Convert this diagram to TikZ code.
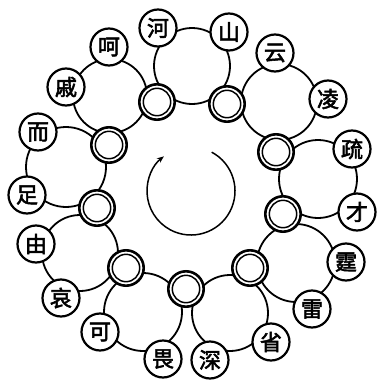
\documentclass[tikz,border=0pt]{standalone}
\usepackage{fontspec}
\newfontfamily\cjk{Noto Sans CJK SC}[AutoFakeBold=2.5]
\usetikzlibrary{arrows.meta}
\begin{document}
\begin{tikzpicture}[x=1pt,y=-1pt,
  ring/.style={circle,draw,line width=1.8pt,minimum size=#1,inner sep=0pt},
  hubout/.style={circle,draw,fill=white,line width=2.6pt,minimum size=35.4pt,inner sep=0pt},
  hubin/.style={circle,draw,line width=1.5pt,minimum size=27.4pt,inner sep=0pt},
  ch/.style={circle,draw,fill=white,line width=2.2pt,minimum size=37pt,inner sep=0pt,font=\cjk\bfseries\fontsize{22}{22}\selectfont}]
\useasboundingbox (0,0) rectangle (377,383);
% loops
\node[ring=76pt] (L1) at (192,66) {};
\node[ring=76pt] (L2) at (279,102) {};
\node[ring=78pt] (L3) at (318,179) {};
\node[ring=78pt] (L4) at (296,263) {};
\node[ring=76pt] (L5) at (230,313) {};
\node[ring=78pt] (L6) at (143,312) {};
\node[ring=76pt] (L7) at (80,253) {};
\node[ring=80pt] (L8) at (66,167) {};
\node[ring=74pt] (L9) at (110,96) {};
% centre arrow
\coordinate (O) at (191,191);
\draw[line width=1.5pt,-{Stealth[length=7pt,width=5.5pt]}] (O) ++(-62:44) arc[start angle=-62,end angle=232,radius=44];
% hubs
\foreach \n/\p in {A/{(157,102)},C/{(227,104)},D/{(276,152)},E/{(283,214)},F/{(250,268)},G/{(186,289)},H/{(126,268)},I/{(97,208)},B/{(109,145)}}{
  \node[hubout] (h\n) at \p {};
  \node[hubin] (h\n i) at (h\n) {};
}
% characters
\node[ch] (c1) at (158,28) {河};
\node[ch] (c2) at (229,32) {山};
\node[ch] (c3) at (275,53) {云};
\node[ch] (c4) at (328,99) {凌};
\node[ch] (c5) at (352,149) {疏};
\node[ch] (c6) at (357,212) {才};
\node[ch] (c7) at (346,262) {霆};
\node[ch] (c8) at (312,309) {雷};
\node[ch] (c9) at (271,342) {省};
\node[ch] (c10) at (210,360) {深};
\node[ch] (c11) at (163,359) {畏};
\node[ch] (c12) at (100,332) {可};
\node[ch] (c13) at (61,298) {哀};
\node[ch] (c14) at (36,244) {由};
\node[ch] (c15) at (27,195) {足};
\node[ch] (c16) at (38,132) {而};
\node[ch] (c17) at (66,87) {戚};
\node[ch] (c18) at (109,47) {呵};
\end{tikzpicture}
\end{document}
